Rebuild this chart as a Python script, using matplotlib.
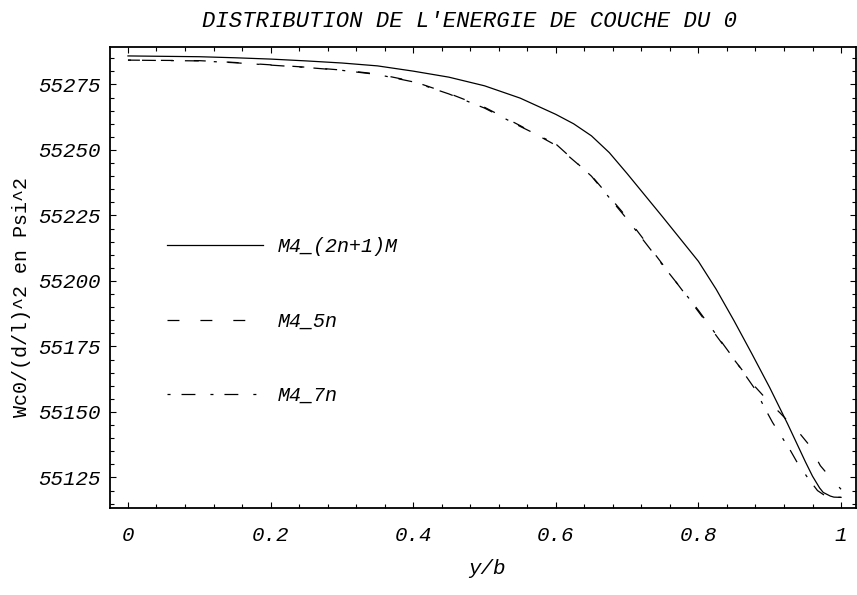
import matplotlib
matplotlib.use('Agg')
import matplotlib.pyplot as plt
from matplotlib.ticker import MultipleLocator
from matplotlib.font_manager import FontProperties

# ---------------- data ----------------
x_2n1 = [0, 0.1, 0.15, 0.2, 0.25, 0.3, 0.35, 0.4, 0.45, 0.5, 0.55, 0.6, 0.625,
         0.65, 0.675, 0.7, 0.75, 0.8, 0.825, 0.85, 0.875, 0.9, 0.925, 0.95,
         0.96, 0.97, 0.975, 0.985, 0.99, 1.0]
y_2n1 = [55285.9, 55285.6, 55285.2, 55284.7, 55284.0, 55283.2, 55282.1,
         55280.1, 55277.8, 55274.5, 55269.8, 55263.6, 55260.0, 55255.4,
         55249.0, 55241.0, 55224.4, 55207.5, 55196.8, 55184.8, 55172.2,
         55159.3, 55145.5, 55131.0, 55125.5, 55121.0, 55119.3, 55117.9,
         55117.5, 55117.4]

x_5n = [0, 0.1, 0.15, 0.2, 0.25, 0.3, 0.35, 0.4, 0.45, 0.5, 0.55, 0.6, 0.65,
        0.7, 0.75, 0.8, 0.85, 0.88, 0.9, 0.915, 0.943, 0.955, 0.971, 0.985, 1.0]
y_5n = [55284.3, 55284.1, 55283.4, 55282.5, 55281.6, 55280.5, 55279.0,
        55276.2, 55271.6, 55266.3, 55259.3, 55251.8, 55240.2, 55224.2,
        55206.3, 55188.3, 55170.0, 55159.5, 55153.5, 55149.5, 55141.5,
        55137.5, 55129.5, 55125.0, 55120.5]

x_7n = [0, 0.1, 0.15, 0.2, 0.25, 0.3, 0.35, 0.4, 0.45, 0.5, 0.55, 0.6, 0.65,
        0.7, 0.75, 0.8, 0.85, 0.88, 0.892, 0.904, 0.929, 0.939, 0.953, 0.967,
        0.98, 1.0]
y_7n = [55284.3, 55284.0, 55283.3, 55282.4, 55281.5, 55280.4, 55278.8,
        55276.0, 55271.4, 55266.0, 55259.0, 55252.3, 55240.0, 55223.6,
        55206.0, 55188.8, 55170.2, 55158.5, 55152.0, 55146.0, 55135.3,
        55130.5, 55125.0, 55120.0, 55117.6, 55117.4]

series_labels = ['M4_(2n+1)M', 'M4_5n', 'M4_7n']
x_ticks = [0, 0.2, 0.4, 0.6, 0.8, 1.0]
x_tick_labels = ['0', '0.2', '0.4', '0.6', '0.8', '1']
y_ticks = [55125, 55150, 55175, 55200, 55225, 55250, 55275]
y_tick_labels = ['55125', '55150', '55175', '55200', '55225', '55250', '55275']

title = "DISTRIBUTION DE L'ENERGIE DE COUCHE DU 0"
x_label = 'y/b'
y_label = 'Wc0/(d/l)^2 en Psi^2'

# ---------------- plot ----------------
plt.rcParams['lines.scale_dashes'] = False
MONO = 'Liberation Mono'
it_font = FontProperties(family=MONO, style='italic', size=15)
leg_font = FontProperties(family=MONO, style='italic', size=14.4)

fig = plt.figure(figsize=(8.57, 5.95), dpi=100)
W, H = 857, 595
L, R, T, B = 110, 856, 46.5, 508
ax = fig.add_axes([L / W, 1 - B / H, (R - L) / W, (B - T) / H])

ax.plot(x_2n1, y_2n1, color='black', lw=0.9, ls='-', label=series_labels[0])
ax.plot(x_5n, y_5n, color='black', lw=0.9, ls=(0, (8.6, 15.1)),
        label=series_labels[1])
ax.plot(x_7n, y_7n, color='black', lw=0.9, ls=(0, (2.2, 7.9, 10.0, 10.8)),
        label=series_labels[2])

ax.set_xlim(-0.0252, 1.0210)
ax.set_ylim(55113.35, 55289.5)

ax.set_xticks(x_ticks)
ax.set_xticklabels(x_tick_labels, fontproperties=it_font)
ax.set_yticks(y_ticks)
ax.set_yticklabels(y_tick_labels, fontproperties=it_font)
ax.xaxis.set_minor_locator(MultipleLocator(0.04))
ax.yaxis.set_minor_locator(MultipleLocator(5))
ax.tick_params(which='both', direction='in', top=True, right=True,
               width=0.8, color='black')
ax.tick_params(which='major', length=4.5)
ax.tick_params(which='minor', length=2.6)
ax.tick_params(axis='x', which='major', pad=13)
ax.tick_params(axis='y', which='major', pad=7)

for s in ax.spines.values():
    s.set_linewidth(1.3)
    s.set_color('black')

fig.text(469 / W, 1 - 27 / H, title, fontproperties=FontProperties(
    family=MONO, style='italic', size=16), ha='center', va='baseline')

ax.set_xlabel(x_label, fontproperties=FontProperties(family=MONO,
              style='italic', size=15))
ax.xaxis.set_label_coords((487 - L) / (R - L), -(568 - B) / (B - T))
ax.xaxis.label.set_va('center')

ax.set_ylabel(y_label, fontproperties=FontProperties(family=MONO, size=14.4))
ax.yaxis.set_label_coords(-(L - 22) / (R - L), (B - 297) / (B - T))
ax.yaxis.label.set_va('center')

leg = ax.legend(loc='upper left', bbox_to_anchor=(167 / W, 1 - 237 / H),
                bbox_transform=fig.transFigure, frameon=False, prop=leg_font,
                handlelength=4.8, handletextpad=0.75, labelspacing=2.78,
                borderpad=0, borderaxespad=0)

fig.savefig('out.png', dpi=100)
